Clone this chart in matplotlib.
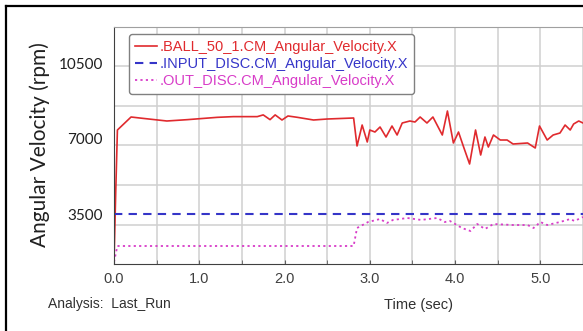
import matplotlib
matplotlib.use("Agg")
import matplotlib.pyplot as plt
from matplotlib.lines import Line2D

# time (s) and angular velocity (rpm)
ball_t = [0.0, 0.02, 0.04, 0.20, 0.30, 0.62, 0.86, 1.21, 1.40, 1.68, 1.75, 1.83,
          1.89, 1.97, 2.04, 2.15, 2.34, 2.50, 2.81, 2.85, 2.91, 2.97, 3.00, 3.06,
          3.12, 3.19, 3.26, 3.32, 3.38, 3.47, 3.53, 3.59, 3.67, 3.74, 3.85, 3.91,
          3.98, 4.04, 4.10, 4.17, 4.24, 4.30, 4.35, 4.39, 4.45, 4.53, 4.61, 4.68,
          4.85, 4.94, 4.99, 5.08, 5.15, 5.23, 5.29, 5.35, 5.39, 5.45, 5.50]
ball_v = [1300, 4500, 7401, 8003, 7957, 7818, 7880, 7987, 8020, 8020, 8100, 7880,
          8100, 7864, 8050, 7988, 7864, 7910, 7957, 6661, 7632, 6846, 7401, 7308,
          7540, 7077, 7586, 7170, 7725, 7818, 7771, 8003, 7725, 8003, 7170, 8280,
          6800, 7308, 6614, 5828, 7401, 6244, 7077, 6614, 7170, 6938, 6938, 6753,
          6800, 6568, 7586, 6938, 7170, 7262, 7632, 7401, 7679, 7818, 7725]

input_t = [0.0, 5.5]
input_v = [3500, 3500]

out_t = [0.0, 0.04, 2.81, 2.85, 2.98, 3.12, 3.20, 3.27, 3.44, 3.60, 3.79, 3.88,
         3.94, 4.08, 4.18, 4.26, 4.35, 4.45, 4.68, 4.85, 4.92, 5.00, 5.08, 5.23,
         5.35, 5.40, 5.50]
out_v = [1300, 2033, 2033, 2866, 3143, 3282, 3097, 3236, 3329, 3240, 3329, 3143,
         3190, 2866, 2727, 3051, 2819, 3051, 3004, 3004, 2866, 3143, 3004, 3143,
         3282, 3190, 3375]

x_ticks = [0.0, 1.0, 2.0, 3.0, 4.0, 5.0]
x_half = [0.5, 1.5, 2.5, 3.5, 4.5, 5.5]
y_ticks = [3500, 7000, 10500]
y_grid = [3005, 4856, 6707, 8512, 10363]

labels = [".BALL_50_1.CM_Angular_Velocity.X",
          ".INPUT_DISC.CM_Angular_Velocity.X",
          ".OUT_DISC.CM_Angular_Velocity.X"]
colors = ["#e02a2e", "#3535c8", "#d83cc8"]

W, H = 583, 331
fig = plt.figure(figsize=(W / 100, H / 100), dpi=100)
ax = fig.add_axes([114 / W, 1 - 264 / H, 1 - 114 / W, (264 - 27) / H])

ax.plot(ball_t, ball_v, color=colors[0], lw=1.2, label=labels[0])
ax.plot(input_t, input_v, color=colors[1], lw=1.5, dashes=(4, 3), label=labels[1])
ax.plot(out_t, out_v, color=colors[2], lw=1.3, dashes=(1.2, 1.8), label=labels[2])

ax.set_xlim(0, 5.5)
ax.set_ylim(1200, 12168)
ax.set_xticks(x_ticks)
ax.set_xticklabels([f"{v:.1f}" for v in x_ticks], family="Liberation Sans",
                   fontsize=10.5, color="#404040")
ax.set_xticks(x_half, minor=True)
ax.set_yticks(y_ticks)
ax.set_yticklabels([str(v) for v in y_ticks], family="Lato", fontsize=11,
                   color="#202020")
ax.set_yticks(y_grid, minor=True)
ax.tick_params(axis="x", which="both", direction="in", length=3, color="#606060",
               pad=6)
ax.tick_params(axis="y", which="both", length=0, pad=8)

for v in x_ticks[1:] + x_half:
    ax.axvline(v, color="#d0d0d0", lw=1.1, zorder=0)
for v in y_grid:
    ax.axhline(v, color="#d0d0d0", lw=1.1, zorder=0)

ax.spines["right"].set_visible(False)
ax.spines["top"].set_color("#a0a0a0")
ax.spines["left"].set_color("#404040")
ax.spines["bottom"].set_color("#404040")

leg = ax.legend(loc="upper left", bbox_to_anchor=(0.032, 0.970), borderaxespad=0,
                prop={"family": "Liberation Sans", "size": 10.5},
                labelspacing=0.22, handlelength=1.5, handletextpad=0.2,
                borderpad=0.4, fancybox=True, framealpha=1, edgecolor="#808080")
leg.get_frame().set_linewidth(1.0)
for txt, c in zip(leg.get_texts(), colors):
    txt.set_color(c)

fig.text(40 / W, 1 - 145 / H, "Angular Velocity (rpm)", rotation=90,
         ha="center", va="center", family="Lato", fontsize=15, color="#202020")
fig.text(418 / W, 1 - 305 / H, "Time (sec)", ha="center", va="center",
         family="Liberation Sans", fontsize=10.5, color="#303030")
fig.text(48 / W, 1 - 304 / H, "Analysis:  Last_Run", ha="left", va="center",
         family="Liberation Sans", fontsize=10, color="#303030")

# outer frame (only its left and top edges fall inside the crop)
fig.add_artist(Line2D([6 / W, 6 / W], [0, 1 - 6 / H], transform=fig.transFigure,
                      color="black", lw=1.6))
fig.add_artist(Line2D([6 / W, 1], [1 - 6 / H, 1 - 6 / H], transform=fig.transFigure,
                      color="black", lw=1.6))

fig.savefig("out.png", dpi=100)
